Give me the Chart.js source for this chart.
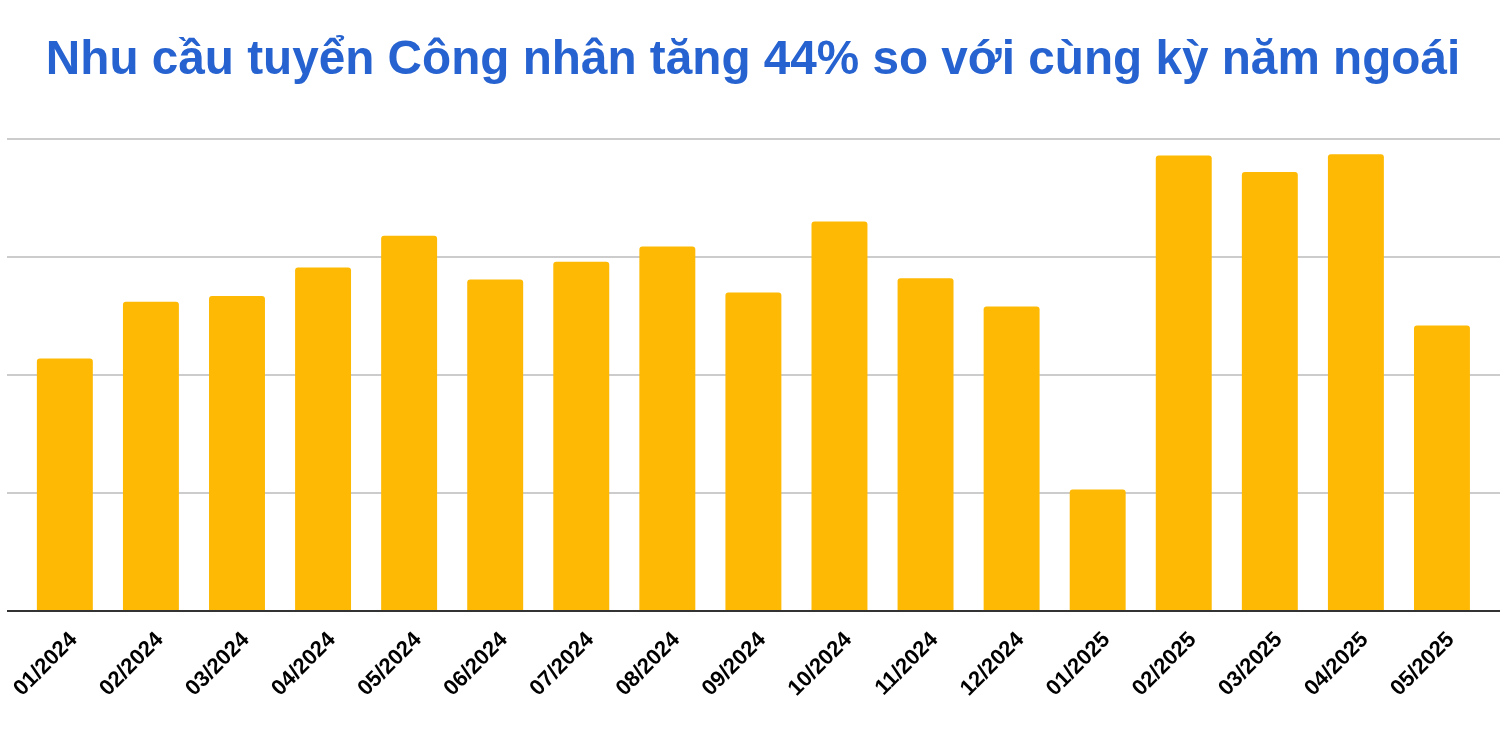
<!DOCTYPE html>
<html>
<head>
<meta charset="utf-8">
<script src="https://cdn.jsdelivr.net/npm/chart.js@4.4.1/dist/chart.umd.min.js"></script>
<style>
  html, body { margin: 0; padding: 0; background: #fff; }
  #wrap { width: 1502px; height: 742px; }
</style>
</head>
<body>
<div id="wrap"><canvas id="barChart"></canvas></div>
<script>
// dữ liệu nhu cầu tuyển công nhân theo tháng (đơn vị tương đối)
const months = [
  "01/2024", "02/2024", "03/2024", "04/2024", "05/2024", "06/2024",
  "07/2024", "08/2024", "09/2024", "10/2024", "11/2024", "12/2024",
  "01/2025", "02/2025", "03/2025", "04/2025", "05/2025"
];
const demand = [
  2.14, 2.62, 2.67, 2.91, 3.18, 2.81,
  2.96, 3.09, 2.70, 3.30, 2.82, 2.58,
  1.03, 3.86, 3.72, 3.87, 2.42
];
const gridTicks = [0, 1, 2, 3, 4];

// kẻ lưới ngang dài hơn vùng vẽ, giống bản gốc
const wideGrid = {
  id: "wideGrid",
  beforeDatasetsDraw(chart) {
    const ctx = chart.ctx;
    const y = chart.scales.y;
    ctx.save();
    ctx.strokeStyle = "#cccccc";
    ctx.lineWidth = 2;
    gridTicks.slice(1).forEach((v) => {
      const py = Math.round(y.getPixelForValue(v));
      ctx.beginPath();
      ctx.moveTo(7, py);
      ctx.lineTo(1500, py);
      ctx.stroke();
    });
    ctx.restore();
  },
  afterDatasetsDraw(chart) {
    const ctx = chart.ctx;
    const py = Math.round(chart.scales.y.getPixelForValue(0));
    ctx.save();
    ctx.strokeStyle = "#333333";
    ctx.lineWidth = 2;
    ctx.beginPath();
    ctx.moveTo(7, py);
    ctx.lineTo(1500, py);
    ctx.stroke();
    ctx.restore();
  },
};

const ctx = document.getElementById("barChart").getContext("2d");
new Chart(ctx, {
  type: "bar",
  data: {
    labels: months,
    datasets: [
      {
        data: demand,
        backgroundColor: "#fdb903",
        borderRadius: 3,
        barPercentage: 0.65,
        categoryPercentage: 1,
      },
    ],
  },
  options: {
    responsive: true,
    maintainAspectRatio: false,
    animation: false,
    layout: { padding: { left: 21, right: 17, top: 0, bottom: 0 } },
    plugins: {
      legend: { display: false },
      tooltip: { enabled: false },
      title: {
        display: true,
        text: "Nhu cầu tuyển Công nhân tăng 44% so với cùng kỳ năm ngoái",
        color: "#2763d0",
        font: { family: "'Liberation Sans', Arial, sans-serif", size: 47.7, weight: "bold", lineHeight: 1.2 },
        padding: { top: 32, bottom: 49.76 },
      },
    },
    scales: {
      x: {
        grid: { display: false },
        border: { display: false },
        ticks: {
          color: "#000",
          maxRotation: 45,
          minRotation: 45,
          padding: 8,
          labelOffset: 9,
          font: { family: "'Liberation Sans', Arial, sans-serif", size: 22, weight: "bold" },
        },
        afterFit(scale) { scale.height = 131; },
      },
      y: {
        display: false,
        min: 0,
        max: 4,
        ticks: { stepSize: 1 },
      },
    },
  },
  plugins: [wideGrid],
});
</script>
</body>
</html>
